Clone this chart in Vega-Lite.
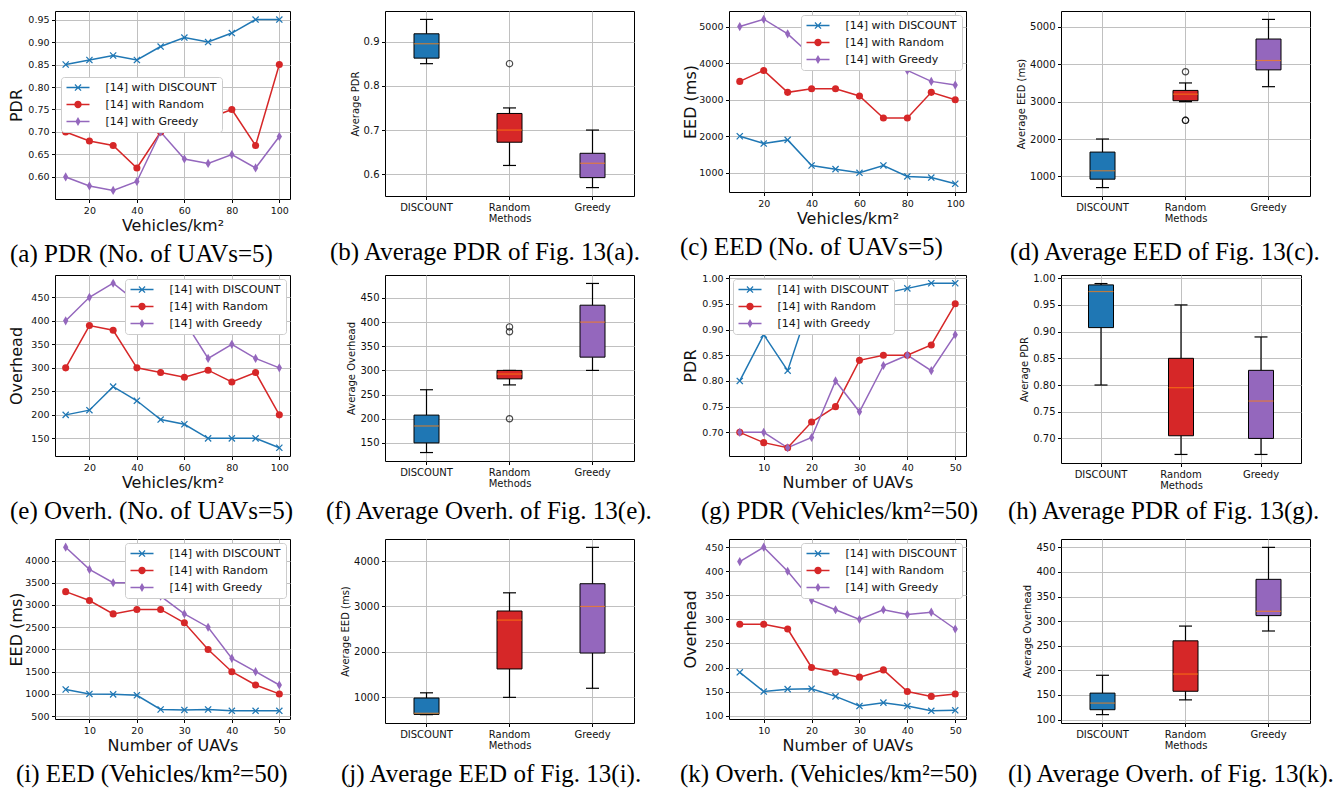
{
  "$schema": "https://vega.github.io/schema/vega-lite/v6.json",
  "background": "white",
  "padding": {"left": 7, "top": 10, "right": 5, "bottom": 0},
  "columns": 4,
  "align": "each",
  "bounds": "flush",
  "spacing": {"row": 76, "column": 95},
  "resolve": {"scale": {"color": "independent", "shape": "independent"}, "legend": {"color": "independent", "shape": "independent"}},
  "datasets": {
    "a": [
      {"x": 10, "m": "DISCOUNT", "v": 0.85}, {"x": 20, "m": "DISCOUNT", "v": 0.86}, {"x": 30, "m": "DISCOUNT", "v": 0.87}, {"x": 40, "m": "DISCOUNT", "v": 0.86}, {"x": 50, "m": "DISCOUNT", "v": 0.89}, {"x": 60, "m": "DISCOUNT", "v": 0.91}, {"x": 70, "m": "DISCOUNT", "v": 0.90}, {"x": 80, "m": "DISCOUNT", "v": 0.92}, {"x": 90, "m": "DISCOUNT", "v": 0.95}, {"x": 100, "m": "DISCOUNT", "v": 0.95},
      {"x": 10, "m": "Random", "v": 0.70}, {"x": 20, "m": "Random", "v": 0.68}, {"x": 30, "m": "Random", "v": 0.67}, {"x": 40, "m": "Random", "v": 0.62}, {"x": 50, "m": "Random", "v": 0.70}, {"x": 60, "m": "Random", "v": 0.74}, {"x": 70, "m": "Random", "v": 0.73}, {"x": 80, "m": "Random", "v": 0.75}, {"x": 90, "m": "Random", "v": 0.67}, {"x": 100, "m": "Random", "v": 0.85},
      {"x": 10, "m": "Greedy", "v": 0.60}, {"x": 20, "m": "Greedy", "v": 0.58}, {"x": 30, "m": "Greedy", "v": 0.57}, {"x": 40, "m": "Greedy", "v": 0.59}, {"x": 50, "m": "Greedy", "v": 0.70}, {"x": 60, "m": "Greedy", "v": 0.64}, {"x": 70, "m": "Greedy", "v": 0.63}, {"x": 80, "m": "Greedy", "v": 0.65}, {"x": 90, "m": "Greedy", "v": 0.62}, {"x": 100, "m": "Greedy", "v": 0.69}
    ],
    "c": [
      {"x": 10, "m": "DISCOUNT", "v": 2000}, {"x": 20, "m": "DISCOUNT", "v": 1800}, {"x": 30, "m": "DISCOUNT", "v": 1900}, {"x": 40, "m": "DISCOUNT", "v": 1200}, {"x": 50, "m": "DISCOUNT", "v": 1100}, {"x": 60, "m": "DISCOUNT", "v": 1000}, {"x": 70, "m": "DISCOUNT", "v": 1200}, {"x": 80, "m": "DISCOUNT", "v": 900}, {"x": 90, "m": "DISCOUNT", "v": 870}, {"x": 100, "m": "DISCOUNT", "v": 700},
      {"x": 10, "m": "Random", "v": 3500}, {"x": 20, "m": "Random", "v": 3800}, {"x": 30, "m": "Random", "v": 3200}, {"x": 40, "m": "Random", "v": 3300}, {"x": 50, "m": "Random", "v": 3300}, {"x": 60, "m": "Random", "v": 3100}, {"x": 70, "m": "Random", "v": 2500}, {"x": 80, "m": "Random", "v": 2500}, {"x": 90, "m": "Random", "v": 3200}, {"x": 100, "m": "Random", "v": 3000},
      {"x": 10, "m": "Greedy", "v": 5000}, {"x": 20, "m": "Greedy", "v": 5200}, {"x": 30, "m": "Greedy", "v": 4800}, {"x": 40, "m": "Greedy", "v": 4200}, {"x": 50, "m": "Greedy", "v": 4300}, {"x": 60, "m": "Greedy", "v": 4000}, {"x": 70, "m": "Greedy", "v": 4000}, {"x": 80, "m": "Greedy", "v": 3800}, {"x": 90, "m": "Greedy", "v": 3500}, {"x": 100, "m": "Greedy", "v": 3400}
    ],
    "e": [
      {"x": 10, "m": "DISCOUNT", "v": 200}, {"x": 20, "m": "DISCOUNT", "v": 210}, {"x": 30, "m": "DISCOUNT", "v": 260}, {"x": 40, "m": "DISCOUNT", "v": 230}, {"x": 50, "m": "DISCOUNT", "v": 190}, {"x": 60, "m": "DISCOUNT", "v": 180}, {"x": 70, "m": "DISCOUNT", "v": 150}, {"x": 80, "m": "DISCOUNT", "v": 150}, {"x": 90, "m": "DISCOUNT", "v": 150}, {"x": 100, "m": "DISCOUNT", "v": 130},
      {"x": 10, "m": "Random", "v": 300}, {"x": 20, "m": "Random", "v": 390}, {"x": 30, "m": "Random", "v": 380}, {"x": 40, "m": "Random", "v": 300}, {"x": 50, "m": "Random", "v": 290}, {"x": 60, "m": "Random", "v": 280}, {"x": 70, "m": "Random", "v": 295}, {"x": 80, "m": "Random", "v": 270}, {"x": 90, "m": "Random", "v": 290}, {"x": 100, "m": "Random", "v": 200},
      {"x": 10, "m": "Greedy", "v": 400}, {"x": 20, "m": "Greedy", "v": 450}, {"x": 30, "m": "Greedy", "v": 480}, {"x": 40, "m": "Greedy", "v": 440}, {"x": 50, "m": "Greedy", "v": 420}, {"x": 60, "m": "Greedy", "v": 400}, {"x": 70, "m": "Greedy", "v": 320}, {"x": 80, "m": "Greedy", "v": 350}, {"x": 90, "m": "Greedy", "v": 320}, {"x": 100, "m": "Greedy", "v": 300}
    ],
    "g": [
      {"x": 5, "m": "DISCOUNT", "v": 0.80}, {"x": 10, "m": "DISCOUNT", "v": 0.89}, {"x": 15, "m": "DISCOUNT", "v": 0.82}, {"x": 20, "m": "DISCOUNT", "v": 0.96}, {"x": 25, "m": "DISCOUNT", "v": 0.99}, {"x": 30, "m": "DISCOUNT", "v": 0.98}, {"x": 35, "m": "DISCOUNT", "v": 0.97}, {"x": 40, "m": "DISCOUNT", "v": 0.98}, {"x": 45, "m": "DISCOUNT", "v": 0.99}, {"x": 50, "m": "DISCOUNT", "v": 0.99},
      {"x": 5, "m": "Random", "v": 0.70}, {"x": 10, "m": "Random", "v": 0.68}, {"x": 15, "m": "Random", "v": 0.67}, {"x": 20, "m": "Random", "v": 0.72}, {"x": 25, "m": "Random", "v": 0.75}, {"x": 30, "m": "Random", "v": 0.84}, {"x": 35, "m": "Random", "v": 0.85}, {"x": 40, "m": "Random", "v": 0.85}, {"x": 45, "m": "Random", "v": 0.87}, {"x": 50, "m": "Random", "v": 0.95},
      {"x": 5, "m": "Greedy", "v": 0.70}, {"x": 10, "m": "Greedy", "v": 0.70}, {"x": 15, "m": "Greedy", "v": 0.67}, {"x": 20, "m": "Greedy", "v": 0.69}, {"x": 25, "m": "Greedy", "v": 0.80}, {"x": 30, "m": "Greedy", "v": 0.74}, {"x": 35, "m": "Greedy", "v": 0.83}, {"x": 40, "m": "Greedy", "v": 0.85}, {"x": 45, "m": "Greedy", "v": 0.82}, {"x": 50, "m": "Greedy", "v": 0.89}
    ],
    "i": [
      {"x": 5, "m": "DISCOUNT", "v": 1100}, {"x": 10, "m": "DISCOUNT", "v": 1000}, {"x": 15, "m": "DISCOUNT", "v": 990}, {"x": 20, "m": "DISCOUNT", "v": 970}, {"x": 25, "m": "DISCOUNT", "v": 650}, {"x": 30, "m": "DISCOUNT", "v": 640}, {"x": 35, "m": "DISCOUNT", "v": 650}, {"x": 40, "m": "DISCOUNT", "v": 620}, {"x": 45, "m": "DISCOUNT", "v": 620}, {"x": 50, "m": "DISCOUNT", "v": 620},
      {"x": 5, "m": "Random", "v": 3300}, {"x": 10, "m": "Random", "v": 3100}, {"x": 15, "m": "Random", "v": 2800}, {"x": 20, "m": "Random", "v": 2900}, {"x": 25, "m": "Random", "v": 2900}, {"x": 30, "m": "Random", "v": 2600}, {"x": 35, "m": "Random", "v": 2000}, {"x": 40, "m": "Random", "v": 1500}, {"x": 45, "m": "Random", "v": 1200}, {"x": 50, "m": "Random", "v": 1000},
      {"x": 5, "m": "Greedy", "v": 4300}, {"x": 10, "m": "Greedy", "v": 3800}, {"x": 15, "m": "Greedy", "v": 3500}, {"x": 20, "m": "Greedy", "v": 3500}, {"x": 25, "m": "Greedy", "v": 3200}, {"x": 30, "m": "Greedy", "v": 2800}, {"x": 35, "m": "Greedy", "v": 2500}, {"x": 40, "m": "Greedy", "v": 1800}, {"x": 45, "m": "Greedy", "v": 1500}, {"x": 50, "m": "Greedy", "v": 1200}
    ],
    "k": [
      {"x": 5, "m": "DISCOUNT", "v": 190}, {"x": 10, "m": "DISCOUNT", "v": 150}, {"x": 15, "m": "DISCOUNT", "v": 155}, {"x": 20, "m": "DISCOUNT", "v": 156}, {"x": 25, "m": "DISCOUNT", "v": 140}, {"x": 30, "m": "DISCOUNT", "v": 120}, {"x": 35, "m": "DISCOUNT", "v": 127}, {"x": 40, "m": "DISCOUNT", "v": 120}, {"x": 45, "m": "DISCOUNT", "v": 110}, {"x": 50, "m": "DISCOUNT", "v": 111},
      {"x": 5, "m": "Random", "v": 290}, {"x": 10, "m": "Random", "v": 290}, {"x": 15, "m": "Random", "v": 280}, {"x": 20, "m": "Random", "v": 200}, {"x": 25, "m": "Random", "v": 190}, {"x": 30, "m": "Random", "v": 180}, {"x": 35, "m": "Random", "v": 195}, {"x": 40, "m": "Random", "v": 150}, {"x": 45, "m": "Random", "v": 140}, {"x": 50, "m": "Random", "v": 145},
      {"x": 5, "m": "Greedy", "v": 420}, {"x": 10, "m": "Greedy", "v": 450}, {"x": 15, "m": "Greedy", "v": 400}, {"x": 20, "m": "Greedy", "v": 340}, {"x": 25, "m": "Greedy", "v": 320}, {"x": 30, "m": "Greedy", "v": 300}, {"x": 35, "m": "Greedy", "v": 320}, {"x": 40, "m": "Greedy", "v": 310}, {"x": 45, "m": "Greedy", "v": 315}, {"x": 50, "m": "Greedy", "v": 280}
    ]
  },
  "concat": [
    {
      "width": 235, "height": 188,
      "data": {"name": "a"},
      "title": {"text": "(a) PDR (No. of UAVs=5)", "dx": -45, "offset": 8},
      "encoding": {
        "x": {"field": "x", "type": "quantitative", "scale": {"domain": [5.5, 104.5], "nice": false, "zero": false}, "axis": {"values": [20, 40, 60, 80, 100], "title": "Vehicles/km²"}},
        "y": {"field": "v", "type": "quantitative", "scale": {"domain": [0.551, 0.969], "nice": false, "zero": false}, "axis": {"values": [0.6, 0.65, 0.7, 0.75, 0.8, 0.85, 0.9, 0.95], "format": ".2f", "title": "PDR", "minExtent": 28, "maxExtent": 28}},
        "color": {"field": "m", "type": "nominal", "scale": {"domain": ["DISCOUNT", "Random", "Greedy"], "range": ["#1f77b4", "#d62728", "#9467bd"]}, "legend": {"title": null, "orient": "none", "legendX": 6, "legendY": 66, "labelExpr": "'[14] with ' + datum.label"}}
      },
      "layer": [
        {"mark": {"type": "line", "strokeWidth": 1.5}},
        {"transform": [{"filter": "datum.m === 'DISCOUNT'"}], "mark": {"type": "point", "filled": true, "size": 50, "opacity": 1, "shape": "M-1,-0.75L-0.75,-1L0,-0.25L0.75,-1L1,-0.75L0.25,0L1,0.75L0.75,1L0,0.25L-0.75,1L-1,0.75L-0.25,0Z"}},
        {"transform": [{"filter": "datum.m === 'Random'"}], "mark": {"type": "point", "filled": true, "size": 50, "opacity": 1, "shape": "circle"}},
        {"transform": [{"filter": "datum.m === 'Greedy'"}], "mark": {"type": "point", "filled": true, "size": 50, "opacity": 1, "shape": "M0,-1.3L0.75,0L0,1.3L-0.75,0Z"}},
        {"transform": [{"filter": "false"}], "mark": {"type": "point", "filled": true, "opacity": 1},
          "encoding": {
            "shape": {"field": "m", "type": "nominal", "scale": {"domain": ["DISCOUNT", "Random", "Greedy"], "range": ["M-2.3,-0.15L2.3,-0.15L2.3,0.15L-2.3,0.15ZM-0.7,-0.525L-0.525,-0.7L0,-0.175L0.525,-0.7L0.7,-0.525L0.175,0L0.7,0.525L0.525,0.7L0,0.175L-0.525,0.7L-0.7,0.525L-0.175,0Z", "M-2.3,-0.15L2.3,-0.15L2.3,0.15L-2.3,0.15ZM0.74,0A0.74,0.74,0,1,1,-0.74,0A0.74,0.74,0,1,1,0.74,0Z", "M-2.3,-0.15L2.3,-0.15L2.3,0.15L-2.3,0.15ZM0,-0.9L0.52,0L0,0.9L-0.52,0Z"]}, "legend": {"title": null, "orient": "none", "legendX": 6, "legendY": 66, "labelExpr": "'[14] with ' + datum.label"}}
          }}
      ]
    },
    {
      "width": 249, "height": 185,
      "data": {"name": "a"},
      "title": {"text": "(b) Average PDR of Fig. 13(a).", "dx": -55, "offset": 17},
      "mark": {"type": "boxplot", "extent": 1.5, "size": 25, "box": {"stroke": "black", "strokeWidth": 1}, "median": {"color": "#ff7f0e", "thickness": 1.2}, "rule": {"color": "black", "strokeWidth": 1.2}, "ticks": {"color": "black", "size": 13, "thickness": 1.2}, "outliers": {"stroke": "black", "color": "black", "filled": false, "size": 40, "strokeWidth": 1.2}},
      "encoding": {
        "x": {"field": "m", "type": "nominal", "sort": ["DISCOUNT", "Random", "Greedy"], "scale": {"paddingInner": 0, "paddingOuter": 0}, "axis": {"labelAngle": 0, "title": "Methods", "bandPosition": 0.5, "labelFontSize": 10, "titleFontSize": 10, "titlePadding": 1}},
        "y": {"field": "v", "type": "quantitative", "scale": {"domain": [0.551, 0.969], "nice": false, "zero": false}, "axis": {"values": [0.6, 0.7, 0.8, 0.9], "format": ".1f", "title": "Average PDR", "titleFontSize": 10, "labelFontSize": 10}},
        "color": {"field": "m", "type": "nominal", "scale": {"domain": ["DISCOUNT", "Random", "Greedy"], "range": ["#1f77b4", "#d62728", "#9467bd"]}, "legend": null}
      }
    },
    {
      "width": 237, "height": 181,
      "data": {"name": "c"},
      "title": {"text": "(c) EED (No. of UAVs=5)", "dx": -49, "offset": 8},
      "encoding": {
        "x": {"field": "x", "type": "quantitative", "scale": {"domain": [5.5, 104.5], "nice": false, "zero": false}, "axis": {"values": [20, 40, 60, 80, 100], "title": "Vehicles/km²"}},
        "y": {"field": "v", "type": "quantitative", "scale": {"domain": [475, 5425], "nice": false, "zero": false}, "axis": {"values": [1000, 2000, 3000, 4000, 5000], "format": "d", "title": "EED (ms)", "minExtent": 28, "maxExtent": 28}},
        "color": {"field": "m", "type": "nominal", "scale": {"domain": ["DISCOUNT", "Random", "Greedy"], "range": ["#1f77b4", "#d62728", "#9467bd"]}, "legend": {"title": null, "orient": "top-right", "offset": 4, "labelExpr": "'[14] with ' + datum.label"}}
      },
      "layer": [
        {"mark": {"type": "line", "strokeWidth": 1.5}},
        {"transform": [{"filter": "datum.m === 'DISCOUNT'"}], "mark": {"type": "point", "filled": true, "size": 50, "opacity": 1, "shape": "M-1,-0.75L-0.75,-1L0,-0.25L0.75,-1L1,-0.75L0.25,0L1,0.75L0.75,1L0,0.25L-0.75,1L-1,0.75L-0.25,0Z"}},
        {"transform": [{"filter": "datum.m === 'Random'"}], "mark": {"type": "point", "filled": true, "size": 50, "opacity": 1, "shape": "circle"}},
        {"transform": [{"filter": "datum.m === 'Greedy'"}], "mark": {"type": "point", "filled": true, "size": 50, "opacity": 1, "shape": "M0,-1.3L0.75,0L0,1.3L-0.75,0Z"}},
        {"transform": [{"filter": "false"}], "mark": {"type": "point", "filled": true, "opacity": 1},
          "encoding": {
            "shape": {"field": "m", "type": "nominal", "scale": {"domain": ["DISCOUNT", "Random", "Greedy"], "range": ["M-2.3,-0.15L2.3,-0.15L2.3,0.15L-2.3,0.15ZM-0.7,-0.525L-0.525,-0.7L0,-0.175L0.525,-0.7L0.7,-0.525L0.175,0L0.7,0.525L0.525,0.7L0,0.175L-0.525,0.7L-0.7,0.525L-0.175,0Z", "M-2.3,-0.15L2.3,-0.15L2.3,0.15L-2.3,0.15ZM0.74,0A0.74,0.74,0,1,1,-0.74,0A0.74,0.74,0,1,1,0.74,0Z", "M-2.3,-0.15L2.3,-0.15L2.3,0.15L-2.3,0.15ZM0,-0.9L0.52,0L0,0.9L-0.52,0Z"]}, "legend": {"title": null, "orient": "top-right", "offset": 4, "labelExpr": "'[14] with ' + datum.label"}}
          }}
      ]
    },
    {
      "width": 249, "height": 185,
      "data": {"name": "c"},
      "title": {"text": "(d) Average EED of Fig. 13(c).", "dx": -51, "offset": 17},
      "mark": {"type": "boxplot", "extent": 1.5, "size": 25, "box": {"stroke": "black", "strokeWidth": 1}, "median": {"color": "#ff7f0e", "thickness": 1.2}, "rule": {"color": "black", "strokeWidth": 1.2}, "ticks": {"color": "black", "size": 13, "thickness": 1.2}, "outliers": {"stroke": "black", "color": "black", "filled": false, "size": 40, "strokeWidth": 1.2}},
      "encoding": {
        "x": {"field": "m", "type": "nominal", "sort": ["DISCOUNT", "Random", "Greedy"], "scale": {"paddingInner": 0, "paddingOuter": 0}, "axis": {"labelAngle": 0, "title": "Methods", "bandPosition": 0.5, "labelFontSize": 10, "titleFontSize": 10, "titlePadding": 1}},
        "y": {"field": "v", "type": "quantitative", "scale": {"domain": [475, 5425], "nice": false, "zero": false}, "axis": {"values": [1000, 2000, 3000, 4000, 5000], "format": "d", "title": "Average EED (ms)", "titleFontSize": 10, "labelFontSize": 10}},
        "color": {"field": "m", "type": "nominal", "scale": {"domain": ["DISCOUNT", "Random", "Greedy"], "range": ["#1f77b4", "#d62728", "#9467bd"]}, "legend": null}
      }
    },
    {
      "width": 235, "height": 181,
      "data": {"name": "e"},
      "title": {"text": "(e) Overh. (No. of UAVs=5)", "dx": -45, "offset": 8},
      "encoding": {
        "x": {"field": "x", "type": "quantitative", "scale": {"domain": [5.5, 104.5], "nice": false, "zero": false}, "axis": {"values": [20, 40, 60, 80, 100], "title": "Vehicles/km²"}},
        "y": {"field": "v", "type": "quantitative", "scale": {"domain": [112.5, 497.5], "nice": false, "zero": false}, "axis": {"values": [150, 200, 250, 300, 350, 400, 450], "format": "d", "title": "Overhead", "minExtent": 28, "maxExtent": 28}},
        "color": {"field": "m", "type": "nominal", "scale": {"domain": ["DISCOUNT", "Random", "Greedy"], "range": ["#1f77b4", "#d62728", "#9467bd"]}, "legend": {"title": null, "orient": "top-right", "offset": 4, "labelExpr": "'[14] with ' + datum.label"}}
      },
      "layer": [
        {"mark": {"type": "line", "strokeWidth": 1.5}},
        {"transform": [{"filter": "datum.m === 'DISCOUNT'"}], "mark": {"type": "point", "filled": true, "size": 50, "opacity": 1, "shape": "M-1,-0.75L-0.75,-1L0,-0.25L0.75,-1L1,-0.75L0.25,0L1,0.75L0.75,1L0,0.25L-0.75,1L-1,0.75L-0.25,0Z"}},
        {"transform": [{"filter": "datum.m === 'Random'"}], "mark": {"type": "point", "filled": true, "size": 50, "opacity": 1, "shape": "circle"}},
        {"transform": [{"filter": "datum.m === 'Greedy'"}], "mark": {"type": "point", "filled": true, "size": 50, "opacity": 1, "shape": "M0,-1.3L0.75,0L0,1.3L-0.75,0Z"}},
        {"transform": [{"filter": "false"}], "mark": {"type": "point", "filled": true, "opacity": 1},
          "encoding": {
            "shape": {"field": "m", "type": "nominal", "scale": {"domain": ["DISCOUNT", "Random", "Greedy"], "range": ["M-2.3,-0.15L2.3,-0.15L2.3,0.15L-2.3,0.15ZM-0.7,-0.525L-0.525,-0.7L0,-0.175L0.525,-0.7L0.7,-0.525L0.175,0L0.7,0.525L0.525,0.7L0,0.175L-0.525,0.7L-0.7,0.525L-0.175,0Z", "M-2.3,-0.15L2.3,-0.15L2.3,0.15L-2.3,0.15ZM0.74,0A0.74,0.74,0,1,1,-0.74,0A0.74,0.74,0,1,1,0.74,0Z", "M-2.3,-0.15L2.3,-0.15L2.3,0.15L-2.3,0.15ZM0,-0.9L0.52,0L0,0.9L-0.52,0Z"]}, "legend": {"title": null, "orient": "top-right", "offset": 4, "labelExpr": "'[14] with ' + datum.label"}}
          }}
      ]
    },
    {
      "width": 249, "height": 186,
      "data": {"name": "e"},
      "title": {"text": "(f) Average Overh. of Fig. 13(e).", "dx": -59, "offset": 11},
      "mark": {"type": "boxplot", "extent": 1.5, "size": 25, "box": {"stroke": "black", "strokeWidth": 1}, "median": {"color": "#ff7f0e", "thickness": 1.2}, "rule": {"color": "black", "strokeWidth": 1.2}, "ticks": {"color": "black", "size": 13, "thickness": 1.2}, "outliers": {"stroke": "black", "color": "black", "filled": false, "size": 40, "strokeWidth": 1.2}},
      "encoding": {
        "x": {"field": "m", "type": "nominal", "sort": ["DISCOUNT", "Random", "Greedy"], "scale": {"paddingInner": 0, "paddingOuter": 0}, "axis": {"labelAngle": 0, "title": "Methods", "bandPosition": 0.5, "labelFontSize": 10, "titleFontSize": 10, "titlePadding": 1}},
        "y": {"field": "v", "type": "quantitative", "scale": {"domain": [112.5, 497.5], "nice": false, "zero": false}, "axis": {"values": [150, 200, 250, 300, 350, 400, 450], "format": "d", "title": "Average Overhead", "titleFontSize": 10, "labelFontSize": 10}},
        "color": {"field": "m", "type": "nominal", "scale": {"domain": ["DISCOUNT", "Random", "Greedy"], "range": ["#1f77b4", "#d62728", "#9467bd"]}, "legend": null}
      }
    },
    {
      "width": 237, "height": 181,
      "data": {"name": "g"},
      "title": {"text": "(g) PDR (Vehicles/km²=50)", "dx": -28, "offset": 8},
      "encoding": {
        "x": {"field": "x", "type": "quantitative", "scale": {"domain": [2.75, 52.25], "nice": false, "zero": false}, "axis": {"values": [10, 20, 30, 40, 50], "title": "Number of UAVs"}},
        "y": {"field": "v", "type": "quantitative", "scale": {"domain": [0.654, 1.006], "nice": false, "zero": false}, "axis": {"values": [0.7, 0.75, 0.8, 0.85, 0.9, 0.95, 1.0], "format": ".2f", "title": "PDR", "minExtent": 28, "maxExtent": 28}},
        "color": {"field": "m", "type": "nominal", "scale": {"domain": ["DISCOUNT", "Random", "Greedy"], "range": ["#1f77b4", "#d62728", "#9467bd"]}, "legend": {"title": null, "orient": "top-left", "offset": 4, "labelExpr": "'[14] with ' + datum.label"}}
      },
      "layer": [
        {"mark": {"type": "line", "strokeWidth": 1.5}},
        {"transform": [{"filter": "datum.m === 'DISCOUNT'"}], "mark": {"type": "point", "filled": true, "size": 50, "opacity": 1, "shape": "M-1,-0.75L-0.75,-1L0,-0.25L0.75,-1L1,-0.75L0.25,0L1,0.75L0.75,1L0,0.25L-0.75,1L-1,0.75L-0.25,0Z"}},
        {"transform": [{"filter": "datum.m === 'Random'"}], "mark": {"type": "point", "filled": true, "size": 50, "opacity": 1, "shape": "circle"}},
        {"transform": [{"filter": "datum.m === 'Greedy'"}], "mark": {"type": "point", "filled": true, "size": 50, "opacity": 1, "shape": "M0,-1.3L0.75,0L0,1.3L-0.75,0Z"}},
        {"transform": [{"filter": "false"}], "mark": {"type": "point", "filled": true, "opacity": 1},
          "encoding": {
            "shape": {"field": "m", "type": "nominal", "scale": {"domain": ["DISCOUNT", "Random", "Greedy"], "range": ["M-2.3,-0.15L2.3,-0.15L2.3,0.15L-2.3,0.15ZM-0.7,-0.525L-0.525,-0.7L0,-0.175L0.525,-0.7L0.7,-0.525L0.175,0L0.7,0.525L0.525,0.7L0,0.175L-0.525,0.7L-0.7,0.525L-0.175,0Z", "M-2.3,-0.15L2.3,-0.15L2.3,0.15L-2.3,0.15ZM0.74,0A0.74,0.74,0,1,1,-0.74,0A0.74,0.74,0,1,1,0.74,0Z", "M-2.3,-0.15L2.3,-0.15L2.3,0.15L-2.3,0.15ZM0,-0.9L0.52,0L0,0.9L-0.52,0Z"]}, "legend": {"title": null, "orient": "top-left", "offset": 4, "labelExpr": "'[14] with ' + datum.label"}}
          }}
      ]
    },
    {
      "width": 240, "height": 188,
      "data": {"name": "g"},
      "title": {"text": "(h) Average PDR of Fig. 13(g).", "dx": -53, "offset": 9},
      "mark": {"type": "boxplot", "extent": 1.5, "size": 25, "box": {"stroke": "black", "strokeWidth": 1}, "median": {"color": "#ff7f0e", "thickness": 1.2}, "rule": {"color": "black", "strokeWidth": 1.2}, "ticks": {"color": "black", "size": 13, "thickness": 1.2}, "outliers": {"stroke": "black", "color": "black", "filled": false, "size": 40, "strokeWidth": 1.2}},
      "encoding": {
        "x": {"field": "m", "type": "nominal", "sort": ["DISCOUNT", "Random", "Greedy"], "scale": {"paddingInner": 0, "paddingOuter": 0}, "axis": {"labelAngle": 0, "title": "Methods", "bandPosition": 0.5, "labelFontSize": 10, "titleFontSize": 10, "titlePadding": 1}},
        "y": {"field": "v", "type": "quantitative", "scale": {"domain": [0.654, 1.006], "nice": false, "zero": false}, "axis": {"values": [0.7, 0.75, 0.8, 0.85, 0.9, 0.95, 1.0], "format": ".2f", "title": "Average PDR", "titleFontSize": 10, "labelFontSize": 10}},
        "color": {"field": "m", "type": "nominal", "scale": {"domain": ["DISCOUNT", "Random", "Greedy"], "range": ["#1f77b4", "#d62728", "#9467bd"]}, "legend": null}
      }
    },
    {
      "width": 235, "height": 180,
      "data": {"name": "i"},
      "title": {"text": "(i) EED (Vehicles/km²=50)", "dx": -39, "offset": 8},
      "encoding": {
        "x": {"field": "x", "type": "quantitative", "scale": {"domain": [2.75, 52.25], "nice": false, "zero": false}, "axis": {"values": [10, 20, 30, 40, 50], "title": "Number of UAVs"}},
        "y": {"field": "v", "type": "quantitative", "scale": {"domain": [436, 4484], "nice": false, "zero": false}, "axis": {"values": [500, 1000, 1500, 2000, 2500, 3000, 3500, 4000], "format": "d", "title": "EED (ms)", "minExtent": 28, "maxExtent": 28}},
        "color": {"field": "m", "type": "nominal", "scale": {"domain": ["DISCOUNT", "Random", "Greedy"], "range": ["#1f77b4", "#d62728", "#9467bd"]}, "legend": {"title": null, "orient": "top-right", "offset": 4, "labelExpr": "'[14] with ' + datum.label"}}
      },
      "layer": [
        {"mark": {"type": "line", "strokeWidth": 1.5}},
        {"transform": [{"filter": "datum.m === 'DISCOUNT'"}], "mark": {"type": "point", "filled": true, "size": 50, "opacity": 1, "shape": "M-1,-0.75L-0.75,-1L0,-0.25L0.75,-1L1,-0.75L0.25,0L1,0.75L0.75,1L0,0.25L-0.75,1L-1,0.75L-0.25,0Z"}},
        {"transform": [{"filter": "datum.m === 'Random'"}], "mark": {"type": "point", "filled": true, "size": 50, "opacity": 1, "shape": "circle"}},
        {"transform": [{"filter": "datum.m === 'Greedy'"}], "mark": {"type": "point", "filled": true, "size": 50, "opacity": 1, "shape": "M0,-1.3L0.75,0L0,1.3L-0.75,0Z"}},
        {"transform": [{"filter": "false"}], "mark": {"type": "point", "filled": true, "opacity": 1},
          "encoding": {
            "shape": {"field": "m", "type": "nominal", "scale": {"domain": ["DISCOUNT", "Random", "Greedy"], "range": ["M-2.3,-0.15L2.3,-0.15L2.3,0.15L-2.3,0.15ZM-0.7,-0.525L-0.525,-0.7L0,-0.175L0.525,-0.7L0.7,-0.525L0.175,0L0.7,0.525L0.525,0.7L0,0.175L-0.525,0.7L-0.7,0.525L-0.175,0Z", "M-2.3,-0.15L2.3,-0.15L2.3,0.15L-2.3,0.15ZM0.74,0A0.74,0.74,0,1,1,-0.74,0A0.74,0.74,0,1,1,0.74,0Z", "M-2.3,-0.15L2.3,-0.15L2.3,0.15L-2.3,0.15ZM0,-0.9L0.52,0L0,0.9L-0.52,0Z"]}, "legend": {"title": null, "orient": "top-right", "offset": 4, "labelExpr": "'[14] with ' + datum.label"}}
          }}
      ]
    },
    {
      "width": 249, "height": 184,
      "data": {"name": "i"},
      "title": {"text": "(j) Average EED of Fig. 13(i).", "dx": -44, "offset": 12},
      "mark": {"type": "boxplot", "extent": 1.5, "size": 25, "box": {"stroke": "black", "strokeWidth": 1}, "median": {"color": "#ff7f0e", "thickness": 1.2}, "rule": {"color": "black", "strokeWidth": 1.2}, "ticks": {"color": "black", "size": 13, "thickness": 1.2}, "outliers": {"stroke": "black", "color": "black", "filled": false, "size": 40, "strokeWidth": 1.2}},
      "encoding": {
        "x": {"field": "m", "type": "nominal", "sort": ["DISCOUNT", "Random", "Greedy"], "scale": {"paddingInner": 0, "paddingOuter": 0}, "axis": {"labelAngle": 0, "title": "Methods", "bandPosition": 0.5, "labelFontSize": 10, "titleFontSize": 10, "titlePadding": 1}},
        "y": {"field": "v", "type": "quantitative", "scale": {"domain": [436, 4484], "nice": false, "zero": false}, "axis": {"values": [1000, 2000, 3000, 4000], "format": "d", "title": "Average EED (ms)", "titleFontSize": 10, "labelFontSize": 10}},
        "color": {"field": "m", "type": "nominal", "scale": {"domain": ["DISCOUNT", "Random", "Greedy"], "range": ["#1f77b4", "#d62728", "#9467bd"]}, "legend": null}
      }
    },
    {
      "width": 237, "height": 180,
      "data": {"name": "k"},
      "title": {"text": "(k) Overh. (Vehicles/km²=50)", "dx": -49, "offset": 8},
      "encoding": {
        "x": {"field": "x", "type": "quantitative", "scale": {"domain": [2.75, 52.25], "nice": false, "zero": false}, "axis": {"values": [10, 20, 30, 40, 50], "title": "Number of UAVs"}},
        "y": {"field": "v", "type": "quantitative", "scale": {"domain": [93, 467], "nice": false, "zero": false}, "axis": {"values": [100, 150, 200, 250, 300, 350, 400, 450], "format": "d", "title": "Overhead", "minExtent": 28, "maxExtent": 28}},
        "color": {"field": "m", "type": "nominal", "scale": {"domain": ["DISCOUNT", "Random", "Greedy"], "range": ["#1f77b4", "#d62728", "#9467bd"]}, "legend": {"title": null, "orient": "top-right", "offset": 4, "labelExpr": "'[14] with ' + datum.label"}}
      },
      "layer": [
        {"mark": {"type": "line", "strokeWidth": 1.5}},
        {"transform": [{"filter": "datum.m === 'DISCOUNT'"}], "mark": {"type": "point", "filled": true, "size": 50, "opacity": 1, "shape": "M-1,-0.75L-0.75,-1L0,-0.25L0.75,-1L1,-0.75L0.25,0L1,0.75L0.75,1L0,0.25L-0.75,1L-1,0.75L-0.25,0Z"}},
        {"transform": [{"filter": "datum.m === 'Random'"}], "mark": {"type": "point", "filled": true, "size": 50, "opacity": 1, "shape": "circle"}},
        {"transform": [{"filter": "datum.m === 'Greedy'"}], "mark": {"type": "point", "filled": true, "size": 50, "opacity": 1, "shape": "M0,-1.3L0.75,0L0,1.3L-0.75,0Z"}},
        {"transform": [{"filter": "false"}], "mark": {"type": "point", "filled": true, "opacity": 1},
          "encoding": {
            "shape": {"field": "m", "type": "nominal", "scale": {"domain": ["DISCOUNT", "Random", "Greedy"], "range": ["M-2.3,-0.15L2.3,-0.15L2.3,0.15L-2.3,0.15ZM-0.7,-0.525L-0.525,-0.7L0,-0.175L0.525,-0.7L0.7,-0.525L0.175,0L0.7,0.525L0.525,0.7L0,0.175L-0.525,0.7L-0.7,0.525L-0.175,0Z", "M-2.3,-0.15L2.3,-0.15L2.3,0.15L-2.3,0.15ZM0.74,0A0.74,0.74,0,1,1,-0.74,0A0.74,0.74,0,1,1,0.74,0Z", "M-2.3,-0.15L2.3,-0.15L2.3,0.15L-2.3,0.15ZM0,-0.9L0.52,0L0,0.9L-0.52,0Z"]}, "legend": {"title": null, "orient": "top-right", "offset": 4, "labelExpr": "'[14] with ' + datum.label"}}
          }}
      ]
    },
    {
      "width": 249, "height": 184,
      "data": {"name": "k"},
      "title": {"text": "(l) Average Overh. of Fig. 13(k).", "dx": -53, "offset": 12},
      "mark": {"type": "boxplot", "extent": 1.5, "size": 25, "box": {"stroke": "black", "strokeWidth": 1}, "median": {"color": "#ff7f0e", "thickness": 1.2}, "rule": {"color": "black", "strokeWidth": 1.2}, "ticks": {"color": "black", "size": 13, "thickness": 1.2}, "outliers": {"stroke": "black", "color": "black", "filled": false, "size": 40, "strokeWidth": 1.2}},
      "encoding": {
        "x": {"field": "m", "type": "nominal", "sort": ["DISCOUNT", "Random", "Greedy"], "scale": {"paddingInner": 0, "paddingOuter": 0}, "axis": {"labelAngle": 0, "title": "Methods", "bandPosition": 0.5, "labelFontSize": 10, "titleFontSize": 10, "titlePadding": 1}},
        "y": {"field": "v", "type": "quantitative", "scale": {"domain": [93, 467], "nice": false, "zero": false}, "axis": {"values": [100, 150, 200, 250, 300, 350, 400, 450], "format": "d", "title": "Average Overhead", "titleFontSize": 10, "labelFontSize": 10}},
        "color": {"field": "m", "type": "nominal", "scale": {"domain": ["DISCOUNT", "Random", "Greedy"], "range": ["#1f77b4", "#d62728", "#9467bd"]}, "legend": null}
      }
    }
  ],
  "config": {
    "view": {"stroke": "black", "strokeWidth": 1, "fill": "white"},
    "axis": {"grid": true, "gridColor": "#c0c0c0", "gridWidth": 1, "domain": false, "ticks": true, "tickColor": "black", "tickSize": 3.5, "tickWidth": 1, "labelFont": "DejaVu Sans", "labelFontSize": 9.5, "labelColor": "#111111", "labelPadding": 2.5, "titleFont": "DejaVu Sans", "titleFontWeight": "normal", "titleColor": "#111111", "titleFontSize": 16, "titlePadding": 3},
    "title": {"orient": "bottom", "anchor": "start", "frame": "group", "font": "Liberation Serif", "fontSize": 25, "fontWeight": "normal", "color": "black"},
    "legend": {"fillColor": "white", "strokeColor": "#cccccc", "cornerRadius": 3, "padding": 5, "labelFont": "DejaVu Sans", "labelFontSize": 11, "labelColor": "#111111", "symbolSize": 100, "symbolStrokeWidth": 0, "symbolOffset": 6.5, "labelOffset": 22, "rowPadding": 5}
  }
}
